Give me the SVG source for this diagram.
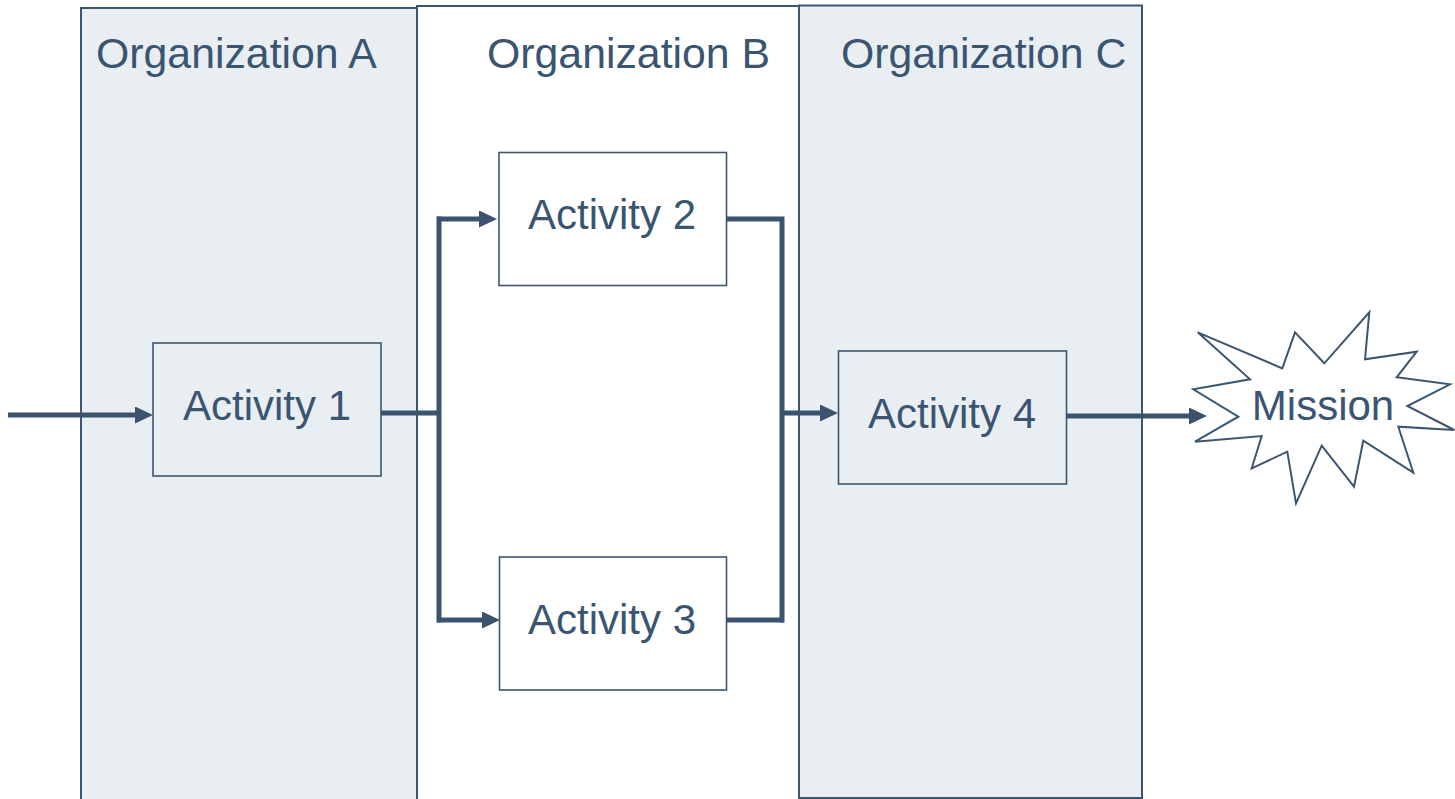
<svg xmlns="http://www.w3.org/2000/svg" width="1455" height="799" viewBox="0 0 1455 799">
<style>
.lane{fill:#e9eef3;stroke:#3d5670;stroke-width:2}
.laneW{fill:#ffffff;stroke:#3d5670;stroke-width:2}
.box{stroke:#3d5670;stroke-width:1.6}
.title{font-family:"Liberation Sans",Arial,sans-serif;font-size:42.8px;fill:#3a5571}
.lbl{font-family:"Liberation Sans",Arial,sans-serif;font-size:42px;fill:#3a5571;text-anchor:middle}
.con{fill:none;stroke:#3b536e;stroke-width:5;stroke-linejoin:miter}
</style>
<defs>
<marker id="ah" markerUnits="userSpaceOnUse" markerWidth="20" markerHeight="18" refX="0" refY="8.5" orient="auto" viewBox="0 0 20 18">
<path d="M0,0 L18,8.5 L0,17 z" fill="#3b536e"/>
</marker>
</defs>
<rect width="1455" height="799" fill="#ffffff"/>
<g id="lane-a"><rect class="lane" x="81" y="8" width="336" height="800"/><text class="title" x="96" y="68">Organization A</text></g>
<g id="lane-b"><rect class="laneW" x="417" y="6" width="382" height="800"/><text class="title" x="487" y="68">Organization B</text></g>
<g id="lane-c"><rect class="lane" x="799" y="5.5" width="343" height="792.5"/><text class="title" x="841" y="68">Organization C</text></g>
<g id="connectors">
<line class="con" x1="8" y1="415" x2="135" y2="415" marker-end="url(#ah)"/>
<line class="con" x1="381" y1="413" x2="439" y2="413"/>
<line class="con" x1="439" y1="216.5" x2="439" y2="622.5"/>
<line class="con" x1="437" y1="219" x2="479" y2="219" marker-end="url(#ah)"/>
<line class="con" x1="437" y1="620" x2="482" y2="620" marker-end="url(#ah)"/>
<polyline class="con" points="726,219 782,219 782,622.5"/>
<line class="con" x1="725" y1="620" x2="784" y2="620"/>
<line class="con" x1="782" y1="413" x2="820" y2="413" marker-end="url(#ah)"/>
<line class="con" x1="1066" y1="416" x2="1189" y2="416" marker-end="url(#ah)"/>
</g>
<g id="activity-1"><rect class="box" x="153" y="343" width="228" height="133" fill="#e9eef3"/><text class="lbl" x="267" y="420">Activity 1</text></g>
<g id="activity-2"><rect class="box" x="499" y="152.5" width="227.5" height="133" fill="#ffffff"/><text class="lbl" x="612" y="229">Activity 2</text></g>
<g id="activity-3"><rect class="box" x="499.5" y="557" width="227" height="133" fill="#ffffff"/><text class="lbl" x="612" y="634">Activity 3</text></g>
<g id="activity-4"><rect class="box" x="838.5" y="351" width="228" height="133" fill="#e9eef3"/><text class="lbl" x="952" y="428">Activity 4</text></g>
<g id="mission">
<polygon points="1197.7,332.3 1282.3,368.3 1295,332.3 1324.3,363.3 1369.3,312.3 1365,359.3 1416.7,351.7 1396.7,377.3 1450,384.3 1407.3,406 1454.3,430 1398.3,426.7 1413.3,472.7 1363.3,440.7 1354,486.7 1321.7,445.7 1296,503.3 1287.3,451.7 1251.7,468.3 1261.7,436 1195,441.7 1238.3,416.7 1193.3,389.3 1250,379.3" fill="#ffffff" stroke="#3d5670" stroke-width="2"/>
<text class="lbl" x="1323" y="420">Mission</text>
</g>
</svg>
